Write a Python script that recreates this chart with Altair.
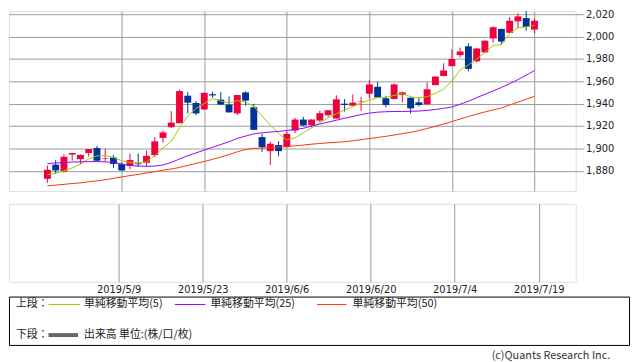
import altair as alt
import pandas as pd

# ---- data ----
dates = ["4/18", "4/19", "4/22", "4/23", "4/24", "4/25", "4/26", "5/7", "5/8", "5/9",
         "5/10", "5/13", "5/14", "5/15", "5/16", "5/17", "5/20", "5/21", "5/22", "5/23",
         "5/24", "5/27", "5/28", "5/29", "5/30", "5/31", "6/3", "6/4", "6/5", "6/6",
         "6/7", "6/10", "6/11", "6/12", "6/13", "6/14", "6/17", "6/18", "6/19", "6/20",
         "6/21", "6/24", "6/25", "6/26", "6/27", "6/28", "7/1", "7/2", "7/3", "7/4",
         "7/5", "7/8", "7/9", "7/10", "7/11", "7/12", "7/16", "7/17", "7/18", "7/19"]

opens = [1872.8, 1885.5, 1879.4, 1894.5, 1890.4, 1895.9, 1900.3, 1890.8, 1891.9, 1886.0,
         1884.3, 1886.5, 1887.2, 1894.0, 1909.4, 1919.0, 1922.5, 1947.1, 1940.6, 1934.8,
         1948.5, 1943.6, 1939.2, 1931.3, 1950.1, 1936.8, 1910.1, 1897.6, 1903.0, 1901.2,
         1916.0, 1925.8, 1920.8, 1924.9, 1929.7, 1926.7, 1940.0, 1938.2, 1941.8, 1948.9,
         1955.1, 1944.8, 1944.2, 1947.7, 1945.3, 1941.2, 1939.4, 1956.6, 1964.7, 1973.5,
         1983.4, 1991.3, 1977.9, 1985.8, 1998.3, 2006.8, 2003.3, 2013.6, 2016.5, 2006.2]
highs = [1884.6, 1889.6, 1894.8, 1896.0, 1894.5, 1899.5, 1902.3, 1899.9, 1894.2, 1887.5,
         1895.4, 1895.4, 1898.0, 1910.0, 1916.0, 1933.3, 1952.6, 1950.3, 1942.4, 1949.9,
         1950.9, 1950.3, 1946.5, 1948.0, 1951.0, 1939.8, 1913.0, 1906.0, 1906.5, 1915.0,
         1927.3, 1928.2, 1926.0, 1933.8, 1934.3, 1947.5, 1944.2, 1948.3, 1946.2, 1961.1,
         1959.6, 1947.1, 1958.1, 1950.7, 1945.5, 1945.3, 1959.0, 1964.4, 1976.1, 1988.7,
         1990.1, 1994.0, 1990.0, 1996.5, 2009.2, 2007.0, 2017.4, 2020.9, 2024.4, 2015.9]
lows = [1869.3, 1877.4, 1878.6, 1889.0, 1886.1, 1892.5, 1888.5, 1888.0, 1882.6, 1880.0,
        1881.4, 1883.8, 1884.0, 1892.5, 1905.0, 1918.1, 1922.5, 1931.3, 1929.8, 1934.5,
        1945.6, 1939.0, 1932.0, 1929.8, 1938.3, 1916.4, 1896.7, 1885.2, 1892.9, 1900.8,
        1913.6, 1920.0, 1919.0, 1923.4, 1928.2, 1926.5, 1932.9, 1938.0, 1933.5, 1944.8,
        1945.4, 1936.7, 1944.0, 1941.2, 1931.1, 1937.5, 1939.2, 1956.5, 1964.5, 1973.3,
        1981.4, 1968.8, 1976.8, 1985.5, 1994.5, 1993.1, 2003.0, 2007.7, 2005.4, 2002.7]
closes = [1880.9, 1880.3, 1892.5, 1895.9, 1894.2, 1899.4, 1889.0, 1891.3, 1886.1, 1880.3,
          1889.6, 1885.8, 1893.3, 1906.3, 1914.3, 1923.1, 1951.2, 1940.9, 1931.3, 1949.7,
          1947.4, 1939.2, 1932.2, 1947.7, 1942.7, 1916.6, 1901.2, 1904.2, 1897.6, 1913.0,
          1925.8, 1920.5, 1925.8, 1931.5, 1934.1, 1943.9, 1938.8, 1940.9, 1942.2, 1957.2,
          1945.6, 1938.8, 1957.2, 1950.1, 1935.8, 1938.8, 1952.8, 1964.2, 1969.7, 1979.9,
          1986.6, 1971.1, 1989.3, 1996.3, 2008.3, 1995.4, 2014.1, 2018.0, 2008.6, 2014.1]

ma5 = [1876.5, 1877.8, 1880.0, 1882.6, 1886.0, 1890.6, 1893.4, 1893.6, 1892.0, 1889.0,
       1887.5, 1887.3, 1888.0, 1893.4, 1900.5, 1906.2, 1918.5, 1929.0, 1935.7, 1940.1,
       1944.6, 1942.5, 1940.5, 1942.8, 1941.5, 1937.5, 1929.0, 1921.0, 1913.5, 1907.5,
       1909.5, 1914.0, 1918.4, 1922.8, 1927.3, 1931.0, 1934.4, 1937.3, 1940.9, 1943.3,
       1945.3, 1945.5, 1947.4, 1949.0, 1946.2, 1945.0, 1946.2, 1949.2, 1953.0, 1960.3,
       1970.2, 1974.5, 1979.9, 1985.8, 1992.0, 1992.8, 2003.0, 2007.7, 2008.6, 2010.0]
ma25 = [1886.5, 1887.0, 1887.4, 1887.8, 1888.0, 1888.2, 1888.2, 1888.0, 1887.5, 1886.0,
        1884.8, 1884.2, 1884.0, 1884.2, 1885.2, 1887.5, 1890.5, 1893.5, 1896.0, 1898.5,
        1901.0, 1903.5, 1906.0, 1909.0, 1911.0, 1913.0, 1914.0, 1914.6, 1915.2, 1916.0,
        1917.0, 1918.0, 1920.0, 1921.8, 1923.5, 1925.2, 1927.0, 1928.6, 1930.2, 1931.6,
        1932.4, 1932.8, 1933.0, 1933.0, 1933.2, 1933.4, 1934.0, 1934.8, 1935.8, 1937.0,
        1939.5, 1942.2, 1945.3, 1948.4, 1951.4, 1954.5, 1957.8, 1961.5, 1965.5, 1969.5]
ma50 = [1866.5, 1867.2, 1867.9, 1868.6, 1869.2, 1870.2, 1871.0, 1872.0, 1873.2, 1874.5,
        1875.7, 1876.8, 1878.0, 1879.2, 1880.5, 1881.6, 1883.0, 1884.8, 1886.6, 1888.3,
        1890.2, 1892.3, 1894.5, 1897.0, 1899.0, 1900.0, 1900.4, 1900.8, 1901.2, 1901.7,
        1902.4, 1903.0, 1903.8, 1904.4, 1905.0, 1905.5, 1906.0, 1906.8, 1907.8, 1908.8,
        1909.8, 1910.8, 1912.0, 1913.2, 1914.4, 1916.0, 1917.8, 1919.8, 1921.8, 1924.0,
        1926.3, 1928.5, 1930.6, 1932.6, 1934.4, 1936.2, 1938.8, 1941.4, 1944.0, 1946.5]

tick_idx = [9, 19, 29, 39, 49, 59]
tick_labels = ["2019/5/9", "2019/5/23", "2019/6/6", "2019/6/20", "2019/7/4", "2019/7/19"]
y_ticks = [1880, 1900, 1920, 1940, 1960, 1980, 2000, 2020]

ma_names = ["単純移動平均(5)", "単純移動平均(25)", "単純移動平均(50)"]
ma_colors = ["#99cc00", "#9900ff", "#ff3300"]
up_color = "#f0003c"
down_color = "#003399"
grid_color = "#999999"

# ---- tables ----
n = len(dates)
df = pd.DataFrame({
    "i": list(range(n)), "date": dates, "open": opens, "high": highs,
    "low": lows, "close": closes,
})
df["dir"] = ["up" if c >= o else "down" for o, c in zip(opens, closes)]

ma_df = pd.concat([
    pd.DataFrame({"i": list(range(n)), "value": vals, "series": name})
    for name, vals in zip(ma_names, [ma5, ma25, ma50])
])

color_scale = alt.Scale(domain=["up", "down"] + ma_names,
                        range=[up_color, down_color] + ma_colors)

xscale = alt.Scale(domain=[-4.06, 63.4], nice=False, zero=False)
yscale = alt.Scale(domain=[1862, 2022.6], nice=False, zero=False)

label_expr = "".join(f"datum.value == {i} ? '{t}' : " for i, t in zip(tick_idx, tick_labels)) + "''"

x_axis_top = alt.Axis(values=tick_idx, labels=False, ticks=False, domain=False,
                      grid=True, gridColor=grid_color, gridOpacity=1, title=None)
y_axis = alt.Axis(orient="right", values=y_ticks, labelExpr="format(datum.value, ',')",
                  labelOverlap=False, grid=True,
                  gridColor=grid_color, gridOpacity=1, tickColor=grid_color, tickSize=8,
                  labelPadding=2, domain=False, title=None, labelFont="DejaVu Sans",
                  labelFontSize=10, labelColor="#222")

base = alt.Chart(df)
wicks = base.mark_rule(strokeWidth=1, clip=True).encode(
    x=alt.X("i:Q", scale=xscale, axis=x_axis_top),
    y=alt.Y("low:Q", scale=yscale, axis=y_axis),
    y2="high:Q",
    color=alt.Color("dir:N", scale=color_scale, legend=None),
)
bodies = base.mark_bar(size=7).encode(
    x=alt.X("i:Q", scale=xscale, axis=x_axis_top),
    y=alt.Y("open:Q", scale=yscale, axis=y_axis),
    y2="close:Q",
    color=alt.Color("dir:N", scale=color_scale, legend=None),
)
lines = alt.Chart(ma_df).mark_line(strokeWidth=1).encode(
    x=alt.X("i:Q", scale=xscale, axis=x_axis_top),
    y=alt.Y("value:Q", scale=yscale, axis=y_axis),
    color=alt.Color("series:N", scale=color_scale, legend=None),
    detail="series:N",
)
upper = alt.layer(wicks, bodies, lines).properties(width=574, height=182)

lower = alt.Chart(df).mark_point(opacity=0).encode(
    x=alt.X("i:Q", scale=xscale,
            axis=alt.Axis(values=tick_idx, labelExpr=label_expr, ticks=False, domain=False,
                          grid=True, gridColor=grid_color, gridOpacity=1, title=None,
                          labelPadding=3, labelFont="DejaVu Sans", labelFontSize=10,
                          labelColor="#222")),
    y=alt.Y("close:Q", axis=None),
).properties(width=574, height=79)

# ---- legend panel ----
one = alt.Data(values=[{}])
leg_layers = []
def txt(s, x, y, align="left", color="#222"):
    return alt.Chart(one).mark_text(text=s, align=align, baseline="middle", fontSize=11,
                                    color=color, font="Noto Sans CJK JP").encode(
        x=alt.value(x), y=alt.value(y))

def seg(x1, x2, y, color, w=1):
    return alt.Chart(one).mark_rule(color=color, strokeWidth=w).encode(
        x=alt.value(x1), x2=alt.value(x2), y=alt.value(y))

row1, row2 = 8, 39
leg_layers.append(txt("上段：", 7, row1))
for (x1, x2, tx), name, col in zip([(40, 72, 76), (168, 199, 204), (312, 342, 348)], ma_names, ma_colors):
    leg_layers.append(seg(x1, x2, row1, col))
    leg_layers.append(txt(name, tx, row1))
leg_layers.append(txt("下段：", 7, row2))
leg_layers.append(seg(40, 70, row2, "#666666", 4))
leg_layers.append(txt("出来高 単位:(株/口/枚)", 76, row2))
leg_layers.append(txt("(c)Quants Research Inc.", 609, 60, align="right", color="#333"))

legend = alt.layer(*leg_layers).properties(
    width=628, height=49, view=alt.ViewBackground(stroke="#000000", strokeWidth=1))

chart = alt.vconcat(
    alt.vconcat(upper, lower, spacing=11),
    legend,
    spacing=0,
).properties(padding={"left": 0, "top": -2, "right": 0, "bottom": 0}).configure_view(
    stroke=grid_color).configure(font="Noto Sans CJK JP")

chart.save("out.html", embed_options={"renderer": "svg", "actions": False})
